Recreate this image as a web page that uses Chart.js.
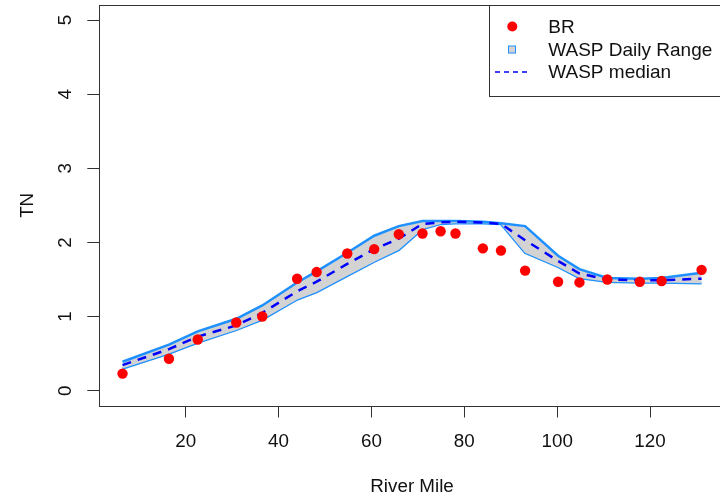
<!DOCTYPE html>
<html><head><meta charset="utf-8">
<script src="https://cdn.jsdelivr.net/npm/chart.js@4/dist/chart.umd.min.js"></script>
<style>
html,body{margin:0;padding:0;overflow:hidden;background:#fff;width:720px;height:502px}
#wrap{position:absolute;left:0;top:0;width:730px;height:502px}
</style>
</head><body><div id="wrap"><canvas id="c" width="730" height="502"></canvas></div>
<script>
// ---- data ----
const riverMile  = [6.4, 16.4, 22.6, 30.9, 36.5, 44.0, 48.2, 54.8, 60.6, 65.9, 71.0, 74.9, 78.1, 84.0, 87.9, 93.1, 100.2, 104.8, 110.8, 117.8, 122.5, 131.1];
const brValues   = [0.23, 0.43, 0.69, 0.92, 1.00, 1.51, 1.60, 1.85, 1.91, 2.11, 2.12, 2.15, 2.12, 1.92, 1.89, 1.62, 1.47, 1.46, 1.50, 1.47, 1.48, 1.63];
const waspMax    = [0.39, 0.62, 0.80, 0.97, 1.15, 1.46, 1.61, 1.86, 2.09, 2.22, 2.29, 2.29, 2.29, 2.28, 2.26, 2.22, 1.82, 1.64, 1.52, 1.51, 1.52, 1.59];
const waspMin    = [0.30, 0.50, 0.65, 0.82, 0.96, 1.23, 1.33, 1.55, 1.74, 1.90, 2.18, 2.25, 2.26, 2.26, 2.25, 1.86, 1.67, 1.52, 1.47, 1.46, 1.46, 1.45];
const waspMedian = [0.345, 0.56, 0.73, 0.88, 1.05, 1.34, 1.47, 1.71, 1.91, 2.05, 2.25, 2.27, 2.28, 2.27, 2.25, 2.03, 1.75, 1.58, 1.50, 1.49, 1.49, 1.51];
const xTickValues = [20, 40, 60, 80, 100, 120];
const yTickValues = [0, 1, 2, 3, 4, 5];
const legendLabels = ['BR', 'WASP Daily Range', 'WASP median'];
const xTitle = 'River Mile';
const yTitle = 'TN';

const FONT = "'Liberation Sans', Arial, sans-serif";
const pts = arr => riverMile.map((x, i) => ({x: x, y: arr[i]}));

const frame = {
  id: 'frame',
  afterDraw(chart) {
    const ctx = chart.ctx, a = chart.chartArea;
    const ys = chart.scales.y;
    ctx.save();
    // plot box
    ctx.strokeStyle = '#333'; ctx.lineWidth = 1;
    const L = Math.round(a.left) + 0.5, T = Math.round(a.top) + 0.5,
          R = Math.round(a.right) + 0.5, B = Math.round(a.bottom) + 0.5;
    ctx.strokeRect(L, T, R - L, B - T);
    // y tick labels (rotated like R)
    ctx.fillStyle = '#111';
    ctx.font = '18.8px ' + FONT;
    ctx.textAlign = 'center'; ctx.textBaseline = 'middle';
    yTickValues.forEach(v => {
      const py = ys.getPixelForValue(v);
      ctx.save(); ctx.translate(66, py); ctx.rotate(-Math.PI / 2);
      ctx.fillText(String(v), 0, 0); ctx.restore();
    });
    // legend
    const lx = 489.5, ly = T, lr = R, lb = 96.5;
    ctx.fillStyle = '#fff';
    ctx.fillRect(lx, ly, lr - lx, lb - ly);
    ctx.strokeStyle = '#333';
    ctx.strokeRect(lx, ly, lr - lx, lb - ly);
    const rows = [26.5, 49.5, 72];
    // BR dot
    ctx.fillStyle = '#ff0000';
    ctx.beginPath(); ctx.arc(512.3, rows[0], 5, 0, Math.PI * 2); ctx.fill();
    // range square
    ctx.fillStyle = '#d3d3d3'; ctx.strokeStyle = '#1E90FF'; ctx.lineWidth = 1;
    ctx.fillRect(508.5, rows[1] - 3.5, 7, 7);
    ctx.strokeRect(508.5, rows[1] - 3.5, 7, 7);
    // median dash
    ctx.strokeStyle = '#0000ff'; ctx.lineWidth = 1.3; ctx.setLineDash([5, 4]);
    ctx.beginPath(); ctx.moveTo(495, rows[2]); ctx.lineTo(530, rows[2]); ctx.stroke();
    ctx.setLineDash([]);
    ctx.fillStyle = '#111'; ctx.font = '19px ' + FONT;
    ctx.textAlign = 'left'; ctx.textBaseline = 'middle';
    legendLabels.forEach((t, i) => ctx.fillText(t, 548.3, rows[i] + 1));
    ctx.restore();
  }
};

new Chart(document.getElementById('c'), {
  type: 'line',
  data: {
    datasets: [
      { label: 'BR', data: pts(brValues), showLine: false, pointRadius: 5.2,
        pointBackgroundColor: '#ff0000', pointBorderWidth: 0, borderColor: '#ff0000' },
      { label: 'WASP median', data: pts(waspMedian), borderColor: '#0000ff', borderWidth: 2.5,
        borderDash: [9, 7], pointRadius: 0, fill: false, tension: 0 },
      { label: 'WASP max', data: pts(waspMax), borderColor: '#1E90FF', borderWidth: 2.5,
        backgroundColor: '#d3d3d3', pointRadius: 0, fill: '+1', tension: 0 },
      { label: 'WASP min', data: pts(waspMin), borderColor: '#1E90FF', borderWidth: 2.5,
        pointRadius: 0, fill: false, tension: 0 }
    ]
  },
  options: {
    responsive: false, animation: false, devicePixelRatio: 1,
    layout: { padding: { top: 3.8, right: 4.4, left: 0, bottom: 0 } },
    plugins: { legend: { display: false }, tooltip: { enabled: false } },
    scales: {
      x: {
        type: 'linear', min: 1.4, max: 136.1,
        afterBuildTicks: s => { s.ticks = xTickValues.map(v => ({ value: v })); },
        afterFit: s => { s.height = 96.5; },
        border: { display: false },
        grid: { drawOnChartArea: false, drawTicks: true, tickLength: 12, color: '#333', tickColor: '#333' },
        ticks: { color: '#111', font: { family: FONT, size: 18.8 }, padding: 13, maxRotation: 0, autoSkip: false },
        title: { display: true, text: xTitle, color: '#111', font: { family: FONT, size: 18.8 }, padding: { top: 0, bottom: 3.7 } }
      },
      y: {
        type: 'linear', min: -0.2, max: 5.2,
        afterBuildTicks: s => { s.ticks = yTickValues.map(v => ({ value: v })); },
        afterFit: s => { s.width = 99.3; },
        border: { display: false },
        grid: { drawOnChartArea: false, drawTicks: true, tickLength: 12, color: '#333', tickColor: '#333' },
        ticks: { display: false },
        title: { display: true, text: yTitle, color: '#111', font: { family: FONT, size: 18.8 }, padding: { top: 16.7, bottom: 0 } }
      }
    }
  },
  plugins: [frame]
});
</script>
</body></html>
